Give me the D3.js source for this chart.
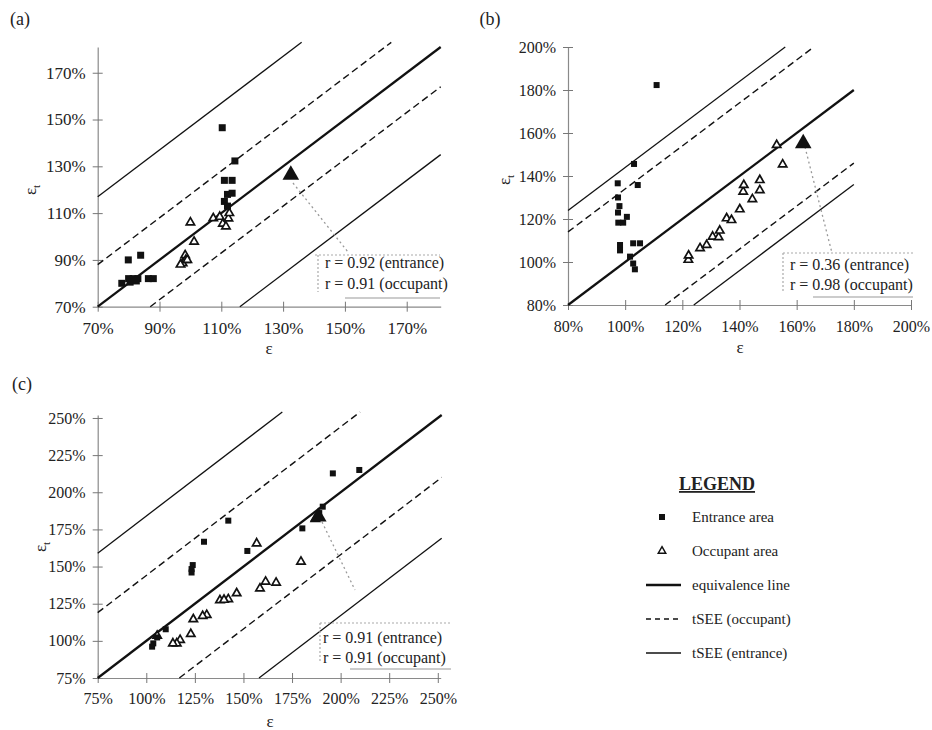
<!DOCTYPE html>
<html>
<head>
<meta charset="utf-8">
<script src="https://cdn.jsdelivr.net/npm/d3@7"></script>
<style>
  body { margin: 0; background: #fff; }
  text { font-family: "Liberation Serif", "Times New Roman", serif; fill: #222; }
</style>
</head>
<body>
<div id="chart"></div>
<script>
// ---- data ----
const aTicks = [70, 90, 110, 130, 150, 170];
const bTicks = [80, 100, 120, 140, 160, 180, 200];
const cTicks = [75, 100, 125, 150, 175, 200, 225, 250];

// [epsilon, epsilon_t] in %
const aEntrance = [[110.3, 146.5], [114.4, 132.3], [111, 124], [113.5, 124], [112, 118], [113.5, 118.5],
  [111, 115], [112, 113], [79.9, 90], [83.9, 92], [80, 82], [81.5, 82], [83, 82], [80.5, 80.5],
  [82.5, 81], [86.4, 82], [88, 82], [77.8, 80]];
const aOccupant = [[100, 106], [101.2, 97.8], [98.3, 92], [97.5, 88.6], [98.5, 90], [96.8, 88],
  [99, 90], [107.4, 107.8], [109.5, 108.4], [110.5, 105.5], [111.5, 104.3], [112.3, 107.7], [112.6, 110]];
const aHighlight = [132.5, 126.3];

const bEntrance = [[111, 182.3], [103.1, 145.6], [104.4, 135.8], [97.4, 136.6], [97.5, 130], [98, 126],
  [97.5, 123], [97.6, 118.3], [99.3, 118.3], [100.6, 121], [98.2, 107.9], [98.2, 105.4],
  [102.8, 108.7], [105.2, 108.7], [101.7, 102.5], [102.8, 99.3], [103.4, 96.6]];
const bOccupant = [[122.1, 101], [122.2, 103], [126.2, 106.4], [128.5, 107.9], [130.6, 111.8],
  [132.7, 111.5], [133.1, 114.6], [135.5, 120.3], [137.2, 119.5], [140.1, 124.5], [141.3, 132.7],
  [141.5, 135.8], [144.5, 129.2], [147.1, 138.1], [147.1, 133.4], [153, 154.4], [155.1, 145.4]];
const bHighlight = [162.3, 155.2];

const cEntrance = [[196, 212.7], [209.6, 215], [190.8, 190.3], [189, 186], [180.3, 175.7], [142.2, 180.9],
  [129.7, 166.7], [123.9, 151], [123.3, 148.3], [123.3, 146], [152, 160.5], [110, 107.8],
  [103.6, 98.3], [103, 96.1], [105.6, 102.3]];
const cOccupant = [[156.8, 165.6], [179.6, 153.3], [158.5, 135.3], [161.4, 139.8], [166.8, 139.1],
  [146.5, 132], [142.2, 128], [137.9, 127.3], [140, 127.6], [131.1, 117.4], [129, 116.7],
  [124.2, 114.5], [122.9, 104.6], [117.4, 100.6], [115.7, 98.3], [113.7, 98.3], [105.6, 103.4], [187, 182]];
const cHighlight = [188.5, 183.5];

// reference lines y = x + offset: [kind, xStart, xEnd, offset]
const aLines = [['entrance', 70, 136, 47], ['occupant', 70, 165, 18], ['equiv', 70, 181, 0],
  ['occupant', 87, 181, -17], ['entrance', 116, 181, -46]];
const bLines = [['entrance', 80, 156, 44], ['occupant', 80, 166, 34], ['equiv', 80, 180, 0],
  ['occupant', 114, 180, -34], ['entrance', 124, 180, -44]];
const cLines = [['entrance', 75, 170, 84], ['occupant', 75, 210, 44], ['equiv', 75, 252, 0],
  ['occupant', 117, 252, -42], ['entrance', 158, 252, -83]];

const aR = ['r = 0.92 (entrance)', 'r = 0.91 (occupant)'];
const bR = ['r = 0.36 (entrance)', 'r = 0.98 (occupant)'];
const cR = ['r = 0.91 (entrance)', 'r = 0.91 (occupant)'];

const legendLabels = ['Entrance area', 'Occupant area', 'equivalence line', 'tSEE (occupant)', 'tSEE (entrance)'];
const legendKinds = ['square', 'triangle', 'equiv', 'occupant', 'entrance'];

// ---- drawing ----
const svg = d3.select('#chart').append('svg')
  .attr('width', 932)
  .attr('height', 730);

const lineStyle = {
  equiv: { w: 2.3, dash: null },
  occupant: { w: 1.4, dash: '7,4' },
  entrance: { w: 1.3, dash: null }
};

const panels = [
  { tag: '(a)', tagPos: [20, 25], ticks: aTicks, xd: [70, 181], xr: [97.7, 440.7], yd: [70, 181], yr: [306.7, 47],
    font: 17, pad: 10, ent: aEntrance, occ: aOccupant, hi: aHighlight, lines: aLines, sq: 7,
    xt: [269, 354], yt: [36, 190], r: aR, rx: 325, ry: [268, 289],
    arrow: [[293, 183], [348, 252]],
    box: { top: 255, left: 318, x1: 315, x2: 440, bottom: 298 } },
  { tag: '(b)', tagPos: [490, 25], ticks: bTicks, xd: [80, 200], xr: [568, 911], yd: [80, 200], yr: [305, 47],
    font: 16, pad: 11, ent: bEntrance, occ: bOccupant, hi: bHighlight, lines: bLines, sq: 6,
    xt: [740, 353], yt: [510, 180], r: bR, rx: 790, ry: [270, 290],
    arrow: [[805, 147], [832, 253]],
    box: { top: 253, left: 783, x1: 783, x2: 913, bottom: 297 } },
  { tag: '(c)', tagPos: [22, 390], ticks: cTicks, xd: [75, 251.5], xr: [97.7, 440.7], yd: [75, 252], yr: [678, 415],
    font: 16, pad: 10, ent: cEntrance, occ: cOccupant, hi: cHighlight, lines: cLines, sq: 6,
    xt: [270, 727], yt: [46, 547], r: cR, rx: 323, ry: [643, 663],
    arrow: [[322, 522], [355, 590]],
    box: { top: 623, left: 320, x1: 320, x2: 451, bottom: 669 } }
];

panels.forEach(p => {
  const x = d3.scaleLinear().domain(p.xd).range(p.xr);
  const y = d3.scaleLinear().domain(p.yd).range(p.yr);
  const g = svg.append('g');

  g.append('text')
    .attr('x', p.tagPos[0]).attr('y', p.tagPos[1])
    .attr('text-anchor', 'middle')
    .style('font-size', '18px')
    .text(p.tag);

  // axes
  const xAxis = d3.axisBottom(x)
    .tickValues(p.ticks)
    .tickFormat(d => d + '%')
    .tickSizeInner(5).tickSizeOuter(0)
    .tickPadding(p.pad);
  const yAxis = d3.axisLeft(y)
    .tickValues(p.ticks)
    .tickFormat(d => d + '%')
    .tickSizeInner(5).tickSizeOuter(0)
    .tickPadding(7);

  const gx = g.append('g')
    .attr('transform', `translate(0, ${p.yr[0]})`)
    .call(xAxis);
  const gy = g.append('g')
    .attr('transform', `translate(${p.xr[0]}, 0)`)
    .call(yAxis);

  [gx, gy].forEach(ax => {
    ax.attr('font-family', null);
    ax.select('.domain').attr('stroke', '#8a8a8a').attr('stroke-width', 1.2);
    ax.selectAll('.tick line').attr('stroke', '#777');
    ax.selectAll('.tick text')
      .style('font-size', p.font + 'px')
      .attr('fill', '#222');
  });
  gx.selectAll('.tick line').attr('y1', -5);
  gy.selectAll('.tick line').attr('x1', 5);

  // axis titles
  g.append('text')
    .attr('x', p.xt[0]).attr('y', p.xt[1])
    .attr('text-anchor', 'middle')
    .style('font-size', '17px')
    .text('ε');
  const yt = g.append('text')
    .attr('transform', `translate(${p.yt[0]}, ${p.yt[1]}) rotate(-90)`)
    .attr('text-anchor', 'middle')
    .style('font-size', '17px')
    .text('ε');
  yt.append('tspan').attr('dy', 4).style('font-size', '11px').text('t');

  // reference lines
  g.selectAll('.ref')
    .data(p.lines)
    .enter()
    .append('line')
      .attr('class', 'ref')
      .attr('x1', d => x(d[1]))
      .attr('y1', d => y(d[1] + d[3]))
      .attr('x2', d => x(d[2]))
      .attr('y2', d => y(d[2] + d[3]))
      .attr('stroke', '#111')
      .attr('stroke-width', d => lineStyle[d[0]].w)
      .attr('stroke-dasharray', d => lineStyle[d[0]].dash);

  // annotation pointer and r box
  g.append('line')
    .attr('x1', p.arrow[0][0]).attr('y1', p.arrow[0][1])
    .attr('x2', p.arrow[1][0]).attr('y2', p.arrow[1][1])
    .attr('stroke', '#999').attr('stroke-width', 1.3)
    .attr('stroke-dasharray', '2,3');
  const b = p.box;
  g.append('path')
    .attr('d', `M${b.x1},${b.top}H${b.x2}M${b.left},${b.top}V${b.bottom - 6}`)
    .attr('fill', 'none').attr('stroke', '#aaa').attr('stroke-width', 1.2)
    .attr('stroke-dasharray', '2,2');
  g.append('line')
    .attr('x1', b.x1 + 30).attr('x2', b.x2)
    .attr('y1', b.bottom).attr('y2', b.bottom)
    .attr('stroke', '#999').attr('stroke-width', 1);
  g.selectAll('.rtxt')
    .data(p.r)
    .enter()
    .append('text')
      .attr('class', 'rtxt')
      .attr('x', p.rx)
      .attr('y', (d, i) => p.ry[i])
      .style('font-size', '16px')
      .text(d => d);

  // occupant triangles
  const tri = d3.symbol().type(d3.symbolTriangle).size(30);
  g.selectAll('.occ')
    .data(p.occ)
    .enter()
    .append('path')
      .attr('class', 'occ')
      .attr('d', tri)
      .attr('transform', d => `translate(${x(d[0])}, ${y(d[1])})`)
      .attr('fill', '#fff')
      .attr('stroke', '#111')
      .attr('stroke-width', 1.7);

  // entrance squares
  g.selectAll('.ent')
    .data(p.ent)
    .enter()
    .append('rect')
      .attr('class', 'ent')
      .attr('x', d => x(d[0]) - p.sq / 2)
      .attr('y', d => y(d[1]) - p.sq / 2)
      .attr('width', p.sq)
      .attr('height', p.sq)
      .attr('fill', '#111');

  // highlighted (large) point
  g.append('path')
    .attr('d', d3.symbol().type(d3.symbolTriangle).size(120))
    .attr('transform', `translate(${x(p.hi[0])}, ${y(p.hi[1])})`)
    .attr('fill', '#111');
});

// ---- legend ----
const leg = svg.append('g');
leg.append('text')
  .attr('x', 717).attr('y', 490)
  .attr('text-anchor', 'middle')
  .style('font-size', '18px')
  .style('font-weight', 'bold')
  .style('text-decoration', 'underline')
  .text('LEGEND');

const items = leg.selectAll('.item')
  .data(legendLabels)
  .enter()
  .append('g')
    .attr('class', 'item')
    .attr('transform', (d, i) => `translate(0, ${517 + i * 34})`);

items.append('text')
  .attr('x', 692)
  .attr('y', 5)
  .style('font-size', '15px')
  .text(d => d);

items.each(function(d, i) {
  const it = d3.select(this);
  const kind = legendKinds[i];
  if (kind === 'square') {
    it.append('rect').attr('x', 659).attr('y', -3).attr('width', 6).attr('height', 6).attr('fill', '#111');
  } else if (kind === 'triangle') {
    it.append('path')
      .attr('d', d3.symbol().type(d3.symbolTriangle).size(24))
      .attr('transform', 'translate(662, 0)')
      .attr('fill', '#fff').attr('stroke', '#111').attr('stroke-width', 1.5);
  } else {
    it.append('line')
      .attr('x1', 646).attr('x2', 681)
      .attr('y1', 0).attr('y2', 0)
      .attr('stroke', '#111')
      .attr('stroke-width', lineStyle[kind].w)
      .attr('stroke-dasharray', lineStyle[kind].dash ? '5,4' : null);
  }
});
</script>
</body>
</html>
